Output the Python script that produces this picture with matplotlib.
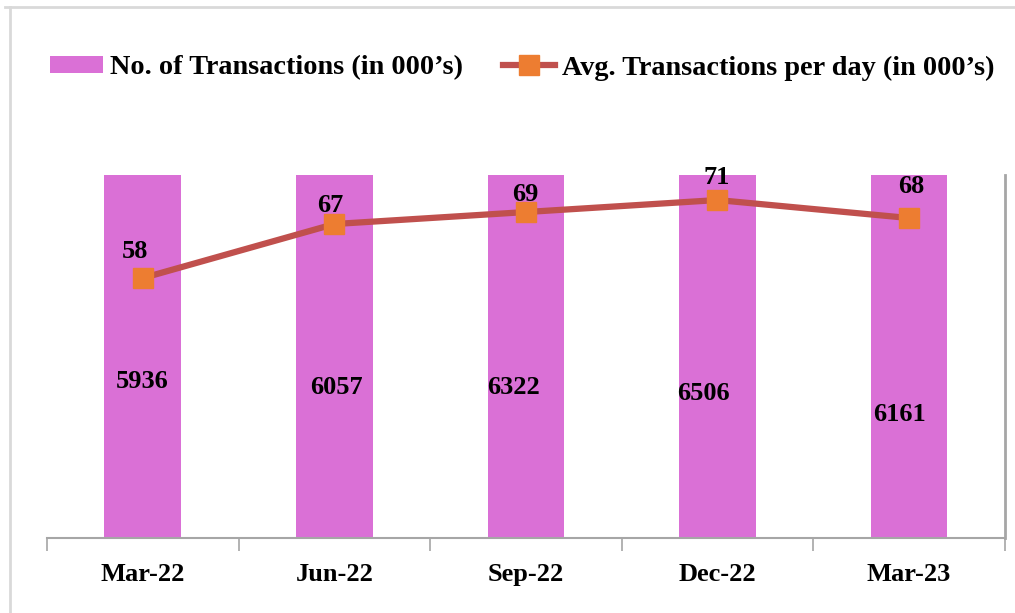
import matplotlib.pyplot as plt
import matplotlib.transforms as mtransforms
from matplotlib.lines import Line2D
import numpy as np

quarters = ["Mar-22", "Jun-22", "Sep-22", "Dec-22", "Mar-23"]
transactions = [5936, 6057, 6322, 6506, 6161]      # in 000's
avg_per_day = [58, 67, 69, 71, 68]                 # in 000's

BAR_COLOR = "#DA70D6"
LINE_COLOR = "#C0504D"
MARKER_COLOR = "#ED7D31"
AXIS_GRAY = "#A6A6A6"

plt.rcParams["font.family"] = ["Liberation Serif", "DejaVu Serif"]
plt.rcParams["font.weight"] = "bold"
FS = 19

fig = plt.figure(figsize=(10.15, 6.13), dpi=100)
ax = fig.add_axes([0.0463, 0.1223, 0.9437, 0.5922])
x = np.arange(len(quarters))

bars = ax.bar(x, transactions, width=0.4, color=BAR_COLOR, zorder=2,
              label="No. of Transactions (in 000\u2019s)")
ax.set_xlim(-0.5, len(quarters) - 0.5)
ax.set_ylim(0, 5000)

# category axis: ticks on the boundaries, labels in the middle
ax.set_xticks(np.arange(-0.5, len(quarters)), minor=False)
ax.set_xticklabels([])
ax.set_xticks(x, minor=True)
ax.set_xticklabels(quarters, minor=True, fontsize=FS, fontweight="bold")
ax.tick_params(axis="x", which="major", length=9, width=1.2, color=AXIS_GRAY, direction="out")
ax.tick_params(axis="x", which="minor", length=0, pad=18)
ax.set_yticks([])
for side in ("top", "left", "right"):
    ax.spines[side].set_visible(False)
ax.spines["bottom"].set_color(AXIS_GRAY)
ax.spines["bottom"].set_linewidth(1.5)

# bar value labels (manually placed inside the bars)
bar_label_y = [0.432, 0.416, 0.416, 0.397, 0.339]
bar_label_dx = [-1, 2, -12, -14, -10]
blend = mtransforms.blended_transform_factory(ax.transData, ax.transAxes)
for xi, v, fy, dx in zip(x, transactions, bar_label_y, bar_label_dx):
    ax.annotate(f"{v}", xy=(xi, fy), xycoords=blend, xytext=(dx, 0),
                textcoords="offset pixels", ha="center", va="center",
                fontsize=FS, fontweight="bold", zorder=5)

ax2 = ax.twinx()
ax2.plot(x, avg_per_day, color=LINE_COLOR, lw=4.5, marker="s", ms=14,
         mfc=MARKER_COLOR, mec=MARKER_COLOR, zorder=3,
         label="Avg. Transactions per day (in 000\u2019s)")
ax2.set_ylim(14.67, 75.17)
ax2.set_yticks([])
for side in ("top", "left", "bottom"):
    ax2.spines[side].set_visible(False)
ax2.spines["right"].set_color(AXIS_GRAY)
ax2.spines["right"].set_linewidth(2)

line_label_off = [(-8, 27), (-4, 19), (-1, 18), (-1, 23), (2, 32)]
for xi, v, (dx, dy) in zip(x, avg_per_day, line_label_off):
    ax2.annotate(f"{v}", xy=(xi, v), xytext=(dx, dy), textcoords="offset pixels",
                 ha="center", va="center", fontsize=FS, fontweight="bold")

handles = [bars, ax2.get_lines()[0]]
fig.legend(handles, [h.get_label() for h in handles], loc="center",
           bbox_to_anchor=(0.515, 0.889), ncol=2, frameon=False,
           handlelength=1.85, handleheight=0.55,
           handletextpad=0.27, columnspacing=1.4, prop={"weight": "bold", "size": 20.3})

# outer frame lines
fig.add_artist(Line2D([5 / 1015, 1], [1 - 7 / 613] * 2, transform=fig.transFigure,
                      color="#D9D9D9", lw=2))
fig.add_artist(Line2D([10 / 1015] * 2, [0, 1 - 7 / 613], transform=fig.transFigure,
                      color="#D9D9D9", lw=2))

fig.savefig("out.png", dpi=100)
